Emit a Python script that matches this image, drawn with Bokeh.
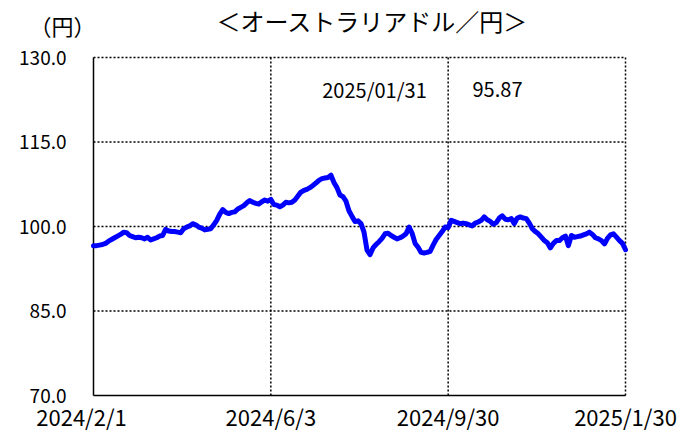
from bokeh.plotting import figure
from bokeh.models import Range1d, Label
from bokeh.core.properties import value
from bokeh.embed import file_html
from bokeh.resources import INLINE

# --- data ---
rate = [
    96.6, 96.6, 96.7, 96.8, 97.0, 97.4, 97.7, 98.0, 98.3, 98.6,
    99.0, 98.9, 98.4, 98.2, 98.0, 98.1, 98.0, 97.8, 98.1, 97.6,
    97.8, 98.0, 98.3, 98.4, 99.5, 99.2, 99.1, 99.1, 99.0, 98.9,
    99.6, 99.9, 100.1, 100.5, 100.3, 99.9, 99.7, 99.4, 99.5, 99.6,
    100.3, 101.1, 102.2, 103.0, 102.5, 102.3, 102.5, 102.6, 103.1, 103.4,
    103.7, 104.2, 104.6, 104.3, 104.1, 104.0, 104.4, 104.7, 104.5, 104.8,
    103.9, 103.8, 103.5, 103.8, 104.3, 104.2, 104.3, 104.7, 105.4, 106.1,
    106.4, 106.6, 106.9, 107.3, 107.7, 108.2, 108.5, 108.6, 108.7, 109.1,
    107.8, 106.9, 105.6, 105.3, 104.5, 102.8, 101.8, 100.9, 101.0, 100.5,
    99.0, 95.8, 95.0, 96.2, 96.8, 97.3, 97.9, 98.7, 98.8, 98.4,
    98.1, 97.8, 98.0, 98.3, 98.7, 99.9, 98.8, 97.0, 96.3, 95.4,
    95.3, 95.4, 95.6, 96.7, 97.7, 98.4, 99.1, 99.9, 99.8, 101.1,
    100.9, 100.7, 100.5, 100.6, 100.5, 100.3, 100.1, 100.6, 100.8, 101.1,
    101.7, 101.2, 100.9, 100.4, 100.7, 101.5, 101.9, 101.3, 101.2, 101.4,
    100.5, 101.5, 101.7, 101.5, 101.4, 100.6, 99.6, 99.1, 98.7, 98.1,
    97.5, 97.1, 96.2, 97.0, 97.5, 97.5, 98.0, 98.3, 96.6, 98.4,
    98.1, 98.2, 98.3, 98.5, 98.7, 99.0, 98.6, 98.0, 97.8, 97.5,
    96.9, 97.9, 98.5, 98.7, 98.1, 97.5, 97.0, 95.87,
]
x_labels = ["2024/2/1", "2024/6/3", "2024/9/30", "2025/1/30"]
y_ticks = [70, 85, 100, 115, 130]
y_labels = [f"{t:.1f}" for t in y_ticks]
title_text = "＜オーストラリアドル／円＞"
unit_text = "（円）"
last_date = "2025/01/31"
last_value = "95.87"

n = len(rate)
xs = list(range(n))
x_ticks = [round(k * (n - 1) / 3) for k in range(4)]

FONT = "Noto Sans CJK JP"

# --- layout: plot box (in page pixels) ---
W, H = 692, 434
BOX_L, BOX_R, BOX_T, BOX_B = 93, 625, 57, 395
kx = (BOX_R - BOX_L) / (n - 1)                    # px per index
ky = (BOX_B - BOX_T) / (y_ticks[-1] - y_ticks[0])  # px per yen


def to_x(px):
    return (px - BOX_L) / kx


def to_y(py):
    return y_ticks[0] + (BOX_B - py) / ky


p = figure(width=W, height=H, output_backend="svg", toolbar_location=None,
           title_location=None, x_axis_location=None, y_axis_location=None,
           x_range=Range1d(to_x(0), to_x(W)), y_range=Range1d(to_y(H), to_y(0)),
           min_border_left=0, min_border_right=0, min_border_top=0, min_border_bottom=0)
p.outline_line_color = None
p.background_fill_color = "white"
p.border_fill_color = "white"
p.xgrid.visible = False
p.ygrid.visible = False

# dotted grid (inner lines + top and right borders)
p.segment(x0=[xs[0]] * (len(y_ticks) - 1), x1=[xs[-1]] * (len(y_ticks) - 1),
          y0=y_ticks[1:], y1=y_ticks[1:],
          line_color="black", line_width=1.5, line_dash="2 2")
p.segment(x0=x_ticks[1:], x1=x_ticks[1:],
          y0=[y_ticks[0]] * (len(x_ticks) - 1), y1=[y_ticks[-1]] * (len(x_ticks) - 1),
          line_color="black", line_width=1.5, line_dash="2 2")
# solid left and bottom borders
p.segment(x0=[xs[0], xs[0]], x1=[xs[0], xs[-1]],
          y0=[y_ticks[0], y_ticks[0]], y1=[y_ticks[-1], y_ticks[0]],
          line_color="black", line_width=1.5)

# series
p.line(xs, rate, line_color="#0000FF", line_width=5, line_join="round", line_cap="round")

# y tick labels
p.text(x=[xs[0]] * len(y_ticks), y=y_ticks, text=y_labels, x_offset=-(BOX_L - 66),
       text_font=value(FONT), text_font_size="19px", text_align="right",
       text_baseline="middle", text_color="black")

# x tick labels
p.text(x=x_ticks, y=[to_y(415)] * len(x_ticks), text=x_labels,
       x_offset=[-12, 0, 0, 0],
       text_font=value(FONT), text_font_size="22px", text_align="center",
       text_baseline="middle", text_color="black")

# texts
p.add_layout(Label(x=to_x(372), y=to_y(20), text=title_text, text_font=FONT,
                   text_font_size="24px", text_align="center", text_baseline="middle",
                   text_color="black"))
p.add_layout(Label(x=to_x(62), y=to_y(24), text=unit_text, text_font=FONT,
                   text_font_size="22px", text_align="center", text_baseline="middle",
                   text_color="black"))
p.add_layout(Label(x=to_x(374), y=to_y(89), text=last_date, text_font=FONT,
                   text_font_size="20px", text_align="center", text_baseline="middle",
                   text_color="black"))
p.add_layout(Label(x=to_x(497), y=to_y(89), text=last_value, text_font=FONT,
                   text_font_size="20px", text_align="center", text_baseline="middle",
                   text_color="black"))

open("out.html", "w").write(file_html(p, INLINE))
